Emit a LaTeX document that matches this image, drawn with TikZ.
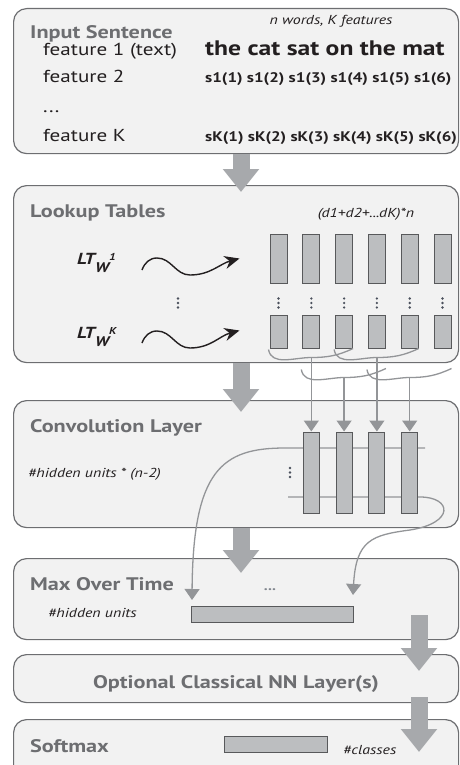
\documentclass[tikz,border=0pt]{standalone}
\usepackage{fontspec}
\setmainfont{PT Sans}[FakeStretch=1.22]
\usetikzlibrary{arrows.meta}
\usetikzlibrary{calc}
\usetikzlibrary{positioning}
\definecolor{panelFill}{HTML}{F2F2F2}
\definecolor{panelDraw}{HTML}{6D6E71}
\definecolor{titleGray}{HTML}{6D6E71}
\definecolor{barFill}{HTML}{BCBEC0}
\definecolor{barDraw}{HTML}{58595B}
\definecolor{arrowGray}{HTML}{A7A9AC}
\definecolor{lineGray}{HTML}{939598}
\definecolor{inkBlack}{HTML}{231F20}
\definecolor{dotGray}{HTML}{4A505C}
\newcommand{\drawVDots}[1]{
	\foreach \d in {-4.5,0,4.5}
		\fill[dotGray] ($(#1)+(0,\d)$) circle (1.3);
}
\newcommand{\ltLabel}[1]{LT\raisebox{-8pt}{\fontsize{14}{14}\selectfont W}\raisebox{3.5pt}{\fontsize{10}{10}\selectfont #1}}
\tikzset{
	panel/.style={draw=panelDraw, fill=panelFill, line width=1.2pt, rounded corners=13pt, anchor=north west, inner sep=0pt},
	title/.style={font=\bfseries\fontsize{18.2}{18.2}\selectfont, text=titleGray, anchor=base west, inner sep=0pt},
	feat/.style={font=\fontsize{17.3}{17.3}\selectfont, text=inkBlack, anchor=base west, inner sep=0pt},
	sent/.style={font=\bfseries\fontsize{21}{21}\selectfont, text=inkBlack, anchor=base west, inner sep=0pt},
	seq/.style={font=\bfseries\fontsize{13.9}{13.9}\selectfont, text=inkBlack, anchor=base west, inner sep=0pt},
	note/.style={font=\itshape\fontsize{13}{13}\selectfont, text=inkBlack, anchor=base, inner sep=0pt},
	ltname/.style={font=\bfseries\itshape\fontsize{16}{16}\selectfont, text=inkBlack, anchor=base west, inner sep=0pt},
	bar/.style={draw=barDraw, fill=barFill, line width=1pt, inner sep=0pt, minimum width=17pt},
	bigarrow/.style={draw=arrowGray, line width=17pt, -{Triangle[length=23pt,width=35pt]}},
	thinline/.style={draw=lineGray, line width=1.3pt},
	thinarrow/.style={thinline, -{Triangle[length=11pt,width=15pt]}},
	wave/.style={draw=inkBlack, line width=1.4pt, -{Stealth[length=15pt,width=13pt]}}
}
\begin{document}
\begin{tikzpicture}[x=1pt,y=1pt]
	\useasboundingbox (0,0) rectangle (459,-765);

	\node[panel, minimum width=445pt, minimum height=145pt] (input) at (13,-8) {};
	\node[panel, minimum width=445pt, minimum height=177pt] (lookup) at (13,-185) {};
	\node[panel, minimum width=445pt, minimum height=127pt] (conv) at (13,-400) {};
	\node[panel, minimum width=445pt, minimum height=81pt] (maxtime) at (13,-558) {};
	\node[panel, minimum width=445pt, minimum height=48pt] (optional) at (13,-654) {};
	\node[panel, minimum width=445pt, minimum height=70pt] (softmax) at (13,-719) {};

	\node[title] (tInput) at (30,-39) {Input Sentence};
	\node[note] (tWords) at (331,-25) {n words, K features};
	\node[feat] (f1) at (43,-56) {feature 1 (text)};
	\node[sent] (s0) at (205,-56) {the cat sat on the mat};
	\node[feat] (f2) at (43,-83) {feature 2};
	\node[seq] (s1) at (205,-83) {s1(1) s1(2) s1(3) s1(4) s1(5) s1(6)};
	\node[feat] (fdots) at (43,-113) {...};
	\node[feat] (fK) at (43,-142) {feature K};
	\node[seq] (sK) at (205,-142) {sK(1) sK(2) sK(3) sK(4) sK(5) sK(6)};

	\node[title] (tLookup) at (30,-217) {Lookup Tables};
	\node[note] (tDims) at (366,-217) {(d1+d2+...dK)*n};
	\node[ltname] (lt1) at (77,-264) {\ltLabel{1}};
	\node[ltname] (ltK) at (77,-338) {\ltLabel{K}};
	\drawVDots{178,-303}
	\foreach \i in {1,...,6} {
		\pgfmathsetmacro{\cx}{278.5+32.8*(\i-1)}
		\node[bar, minimum height=49pt] (lta\i) at (\cx,-258.5) {};
		\node[bar, minimum height=33pt] (ltb\i) at (\cx,-331.5) {};
		\drawVDots{\cx,-303}
	}
	\coordinate (w1) at (142,-270);
	\coordinate (wK) at (142,-343);
	\draw[wave] (w1) to[out=70,in=180] ++(15,12) to[out=0,in=180] ++(33,-17) to[out=0,in=195] ($(lta1.west)+(-30,0)$);
	\draw[wave] (wK) to[out=70,in=180] ++(15,12) to[out=0,in=180] ++(33,-17) to[out=0,in=195] ($(ltb1.west)+(-30,1)$);

	\node[title] (tConv) at (30,-432) {Convolution Layer};
	\node[note, anchor=base west] (tHidden) at (28,-477) {\#hidden units * (n-2)};
	\coordinate (cTopL) at (285,-448);
	\coordinate (cTopR) at (425,-448);
	\coordinate (cBotL) at (288,-497);
	\coordinate (cBotR) at (420,-497);
	\coordinate (mLeft) at (192,-600);
	\coordinate (mRight) at (353,-595);
	\draw[thinarrow] (cTopR) -- (cTopL) .. controls (222,-448) and (193,-470) .. (mLeft);
	\draw[thinarrow] (cBotL) -- (cBotR) .. controls (452,-497) and (455,-523) .. (410,-530) .. controls (372,-535) and (356,-540) .. (mRight);
	\drawVDots{290,-472.5}
	\foreach \i in {1,...,4} {
		\pgfmathsetmacro{\cx}{278.5+32.8*\i}
		\node[bar, minimum width=16pt, minimum height=81pt] (conv\i) at (\cx,-472.5) {};
	}
	\foreach \i/\j/\s in {1/3/0,2/4/20,3/5/0,4/6/20} {
		\coordinate (bl\i) at ($(ltb\i.south west)+(-1,-1-\s)$);
		\coordinate (br\i) at ($(ltb\j.south east)+(0,-\s)$);
		\coordinate (dip\i) at ($(conv\i.north |- bl\i)+(0,-8)$);
		\draw[thinline] (bl\i) to[out=-80,in=180] (dip\i) to[out=0,in=-155] (br\i);
		\draw[thinarrow] (dip\i) -- (conv\i.north);
	}

	\node[title] (tMax) at (30,-590) {Max Over Time};
	\node[note, anchor=base west] (tUnits) at (48,-617) {\#hidden units};
	\node[bar, minimum width=162pt, minimum height=16pt] (maxbar) at (272,-614) {};
	\node[font=\bfseries\fontsize{13}{13}\selectfont, text=dotGray!70, inner sep=0pt] (mDots) at (270,-590) {...};

	\node[title, anchor=base] (tOptional) at (236,-688) {Optional Classical NN Layer(s)};

	\node[title] (tSoftmax) at (30,-752) {Softmax};
	\node[bar, minimum width=103pt, minimum height=16pt] (softbar) at (275.5,-744) {};
	\node[note, anchor=base west] (tClasses) at (343,-754) {\#classes};

	\coordinate (a1) at (241,-192);
	\coordinate (a2) at (241,-412);
	\coordinate (a3) at (241,-573);
	\coordinate (a4) at (419,-671);
	\coordinate (a5) at (419,-752);
	\draw[bigarrow] (input.south -| a1) -- (a1);
	\draw[bigarrow] (lookup.south -| a2) -- (a2);
	\draw[bigarrow] (conv.south -| a3) -- (a3);
	\draw[bigarrow] (419,-615) -- (a4);
	\draw[bigarrow] (419,-697) -- (a5);
\end{tikzpicture}
\end{document}
